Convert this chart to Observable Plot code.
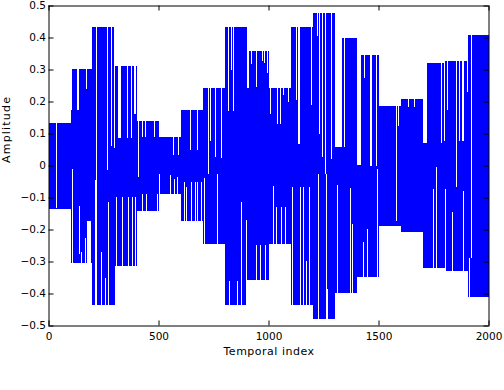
<!DOCTYPE html>
<html><head><meta charset="utf-8">
<script src="https://cdn.jsdelivr.net/npm/d3@7"></script>
<script src="https://cdn.jsdelivr.net/npm/@observablehq/plot@0.6"></script>
<style>
html,body{margin:0;padding:0;background:#fff;}
svg{display:block}
</style></head><body><div id="chart"></div>
<script>
// ---- data ----
const xLabel = "Temporal index";
const yLabel = "Amplitude";
const xTicks = [0, 500, 1000, 1500, 2000];
const yTicks = [-0.5, -0.4, -0.3, -0.2, -0.1, 0, 0.1, 0.2, 0.3, 0.4, 0.5];
const xDomain = [0, 2000];
const yDomain = [-0.5, 0.5];

// amplitude envelope of the oscillating signal, block by block
const blockStart  = [0, 102, 108, 197, 302, 403, 502, 602, 703, 803, 903, 1003, 1103, 1203, 1304, 1331, 1404, 1422, 1504, 1604, 1704, 1722, 1804, 1905];
const blockEnd    = [102, 108, 197, 302, 403, 502, 602, 703, 803, 903, 1003, 1103, 1203, 1304, 1331, 1404, 1422, 1504, 1604, 1704, 1722, 1804, 1905, 2000];
const blockTop    = [0.134, 0.172, 0.303, 0.434, 0.3125, 0.1395, 0.0885, 0.172, 0.2427, 0.434, 0.359, 0.2427, 0.434, 0.477, 0.057, 0.397, 0.003, 0.344, 0.1844, 0.2063, 0.07, 0.3198, 0.328, 0.409];
const blockBottom = [-0.137, -0.305, -0.305, -0.435, -0.3146, -0.1415, -0.0906, -0.174, -0.246, -0.435, -0.359, -0.246, -0.435, -0.479, -0.399, -0.399, -0.347, -0.347, -0.1875, -0.208, -0.321, -0.321, -0.33, -0.4115];

// wider empty notches inside blocks
const notchStart  = [129, 177, 318, 390, 903, 1135, 1229, 1243, 1463, 1490, 1878];
const notchEnd    = [138, 194, 328, 396, 913, 1145, 1232, 1246, 1470, 1495, 1888];
const notchTop    = [0.303, -0.174, 0.3125, 0.3125, 0.359, 0.434, 0.477, 0.477, 0.344, 0.344, 0.328];
const notchBottom = [0.172, -0.305, 0.085, 0.16, 0.243, 0.066, 0.099, 0.026, 0.0, 0.0, 0.078];

// thin empty lines (index where the trace does not cross)
const gapAt = [35, 106, 140, 148, 168, 170,
  218, 267, 285, 296, 211, 215, 238, 258, 270,
  356, 377, 306, 335, 361, 380, 394,
  405, 427, 439, 478, 427, 445, 491, 495,
  566, 589, 504, 550, 570, 583,
  641, 677, 616, 625, 648, 665, 674, 692,
  725, 734, 757, 782, 706, 766,
  817, 829, 837, 821, 858, 876, 899,
  922, 942, 969, 980, 992, 942, 960, 983,
  1008, 1039, 1050, 1068, 1090, 1021, 1035, 1058, 1073,
  1124, 1194, 1108, 1141, 1155, 1170, 1185,
  1222, 1256, 1283, 1224, 1260, 1267,
  1329, 1341, 1310, 1371, 1380,
  1432, 1429, 1449, 1495,
  1578, 1590, 1636, 1662,
  1786, 1798, 1746, 1761, 1802,
  1810, 1850, 1864, 1901, 1834, 1882,
  1920, 1910];
const gapTop = [0.134, -0.01, -0.128, -0.27, -0.225, 0.303,
  0.434, 0.434, 0.434, 0.434, -0.044, 0.0375, -0.27, -0.35, -0.115,
  0.3125, 0.3125, -0.099, -0.099, -0.099, -0.099, -0.099,
  0.1395, 0.1395, 0.1395, 0.1395, -0.09, -0.09, -0.09, -0.09,
  0.0885, 0.0885, -0.026, -0.031, -0.042, -0.036,
  0.172, 0.172, -0.05, -0.066, -0.05, -0.05, -0.05, -0.05,
  0.2427, 0.2427, 0.2427, 0.2427, -0.04, -0.026,
  0.434, 0.434, 0.434, -0.36, -0.36, -0.115, -0.17,
  0.359, 0.359, 0.359, 0.359, 0.359, -0.247, -0.247, -0.247,
  0.2427, 0.2427, 0.2427, 0.2427, 0.2427, -0.0625, -0.13, -0.13, -0.13,
  0.434, 0.434, -0.068, -0.066, -0.068, -0.297, -0.068,
  0.477, 0.477, 0.477, -0.026, -0.026, -0.386,
  0.397, 0.397, -0.06, -0.07, -0.184,
  0.344, -0.24, -0.198, -0.01,
  0.1844, 0.1844, 0.2063, 0.2063,
  0.3198, 0.3198, -0.073, -0.005, -0.073,
  0.328, 0.328, 0.328, 0.328, -0.146, -0.08,
  0.409, -0.29];
const gapBottom = [-0.132, -0.305, -0.275, -0.305, -0.305, 0.24,
  0.0365, -0.0125, 0.06, 0.055, -0.435, -0.435, -0.435, -0.435, -0.435,
  0.085, 0.085, -0.3146, -0.3146, -0.3146, -0.3146, -0.3146,
  -0.037, 0.088, 0.088, 0.088, -0.1415, -0.1415, -0.1415, -0.1415,
  0.034, 0.034, -0.0906, -0.0906, -0.0906, -0.0906,
  0.047, 0.047, -0.174, -0.174, -0.174, -0.174, -0.174, -0.174,
  -0.026, 0.076, 0.026, 0.024, -0.246, -0.246,
  0.169, 0.3, 0.169, -0.435, -0.435, -0.435, -0.435,
  0.316, 0.245, 0.328, 0.32, 0.289, -0.359, -0.359, -0.359,
  0.16, 0.13, 0.13, 0.219, 0.198, -0.246, -0.246, -0.246, -0.246,
  0.206, 0.19, -0.435, -0.435, -0.435, -0.435, -0.435,
  0.406, -0.026, 0.021, -0.479, -0.479, -0.479,
  0.057, 0.057, -0.399, -0.399, -0.399,
  0.272, -0.347, -0.347, -0.347,
  -0.172, 0.125, 0.182, 0.182,
  0.07, 0.078, -0.321, -0.321, -0.33,
  0.174, -0.068, 0.078, 0.229, -0.33, -0.33,
  -0.29, -0.4115];

// ---- layout ----
const W = 504, H = 390;
const mL = 48.5, mR = 15.5, mT = 5.5, mB = 64.5;
const plotW = W - mL - mR, plotH = H - mT - mB;
const tickPx = 5;
const tickLenX = tickPx * (xDomain[1] - xDomain[0]) / plotW;
const tickLenY = tickPx * (yDomain[1] - yDomain[0]) / plotH;

const blocks = blockStart.map((s, i) => ({x1: s, x2: blockEnd[i], y1: blockBottom[i], y2: blockTop[i]}));
const notches = notchStart.map((s, i) => ({x1: s, x2: notchEnd[i], y1: notchBottom[i], y2: notchTop[i]}));
const gaps = gapAt.map((x, i) => ({x, y1: gapBottom[i], y2: gapTop[i]}));

const blue = "#0000ff";
const fmtY = d => d === 0 ? "0" : (d < 0 ? "\u2212" : "") + Math.abs(d).toFixed(1);
const fmtX = d => String(d);

const chart = Plot.plot({
  width: W, height: H,
  marginLeft: mL, marginRight: mR, marginTop: mT, marginBottom: mB,
  x: {domain: xDomain, label: null},
  y: {domain: yDomain, label: null},
  style: {background: "white", fontFamily: "'DejaVu Sans', sans-serif", color: "black"},
  marks: [
    Plot.rect(blocks, {x1: "x1", x2: "x2", y1: "y1", y2: "y2", fill: blue, shapeRendering: "crispEdges"}),
    Plot.rect(notches, {x1: "x1", x2: "x2", y1: "y1", y2: "y2", fill: "white", shapeRendering: "crispEdges"}),
    Plot.ruleX(gaps, {x: "x", y1: "y1", y2: "y2", stroke: "white", strokeWidth: 1, shapeRendering: "crispEdges"}),
    Plot.frame({stroke: "black", strokeWidth: 1}),
    Plot.ruleX(xTicks, {x: d => d, y1: yDomain[0], y2: yDomain[0] + tickLenY, stroke: "black"}),
    Plot.ruleX(xTicks, {x: d => d, y1: yDomain[1] - tickLenY, y2: yDomain[1], stroke: "black"}),
    Plot.ruleY(yTicks, {y: d => d, x1: xDomain[0], x2: xDomain[0] + tickLenX, stroke: "black"}),
    Plot.ruleY(yTicks, {y: d => d, x1: xDomain[1] - tickLenX, x2: xDomain[1], stroke: "black"}),
    Plot.axisX({ticks: xTicks, tickSize: 0, tickPadding: 7, fontSize: 10.5, tickFormat: fmtX, label: null}),
    Plot.axisY({ticks: yTicks, tickSize: 0, tickPadding: 3, fontSize: 10.5, tickFormat: fmtY, label: null}),
    Plot.text([xLabel], {text: d => d, frameAnchor: "bottom", dy: 21, lineAnchor: "top", fontSize: 11, fill: "black"}),
    Plot.text([yLabel], {text: d => d, frameAnchor: "left", dx: -42.5, dy: -3, rotate: -90, fontSize: 11, fill: "black"})
  ]
});
document.getElementById("chart").appendChild(chart);
d3.select(chart).selectAll("g[aria-label='text'] text").style("letter-spacing", (d, i, n) => n[i].textContent === yLabel ? "1.2px" : "0.5px");
</script>
</body></html>
